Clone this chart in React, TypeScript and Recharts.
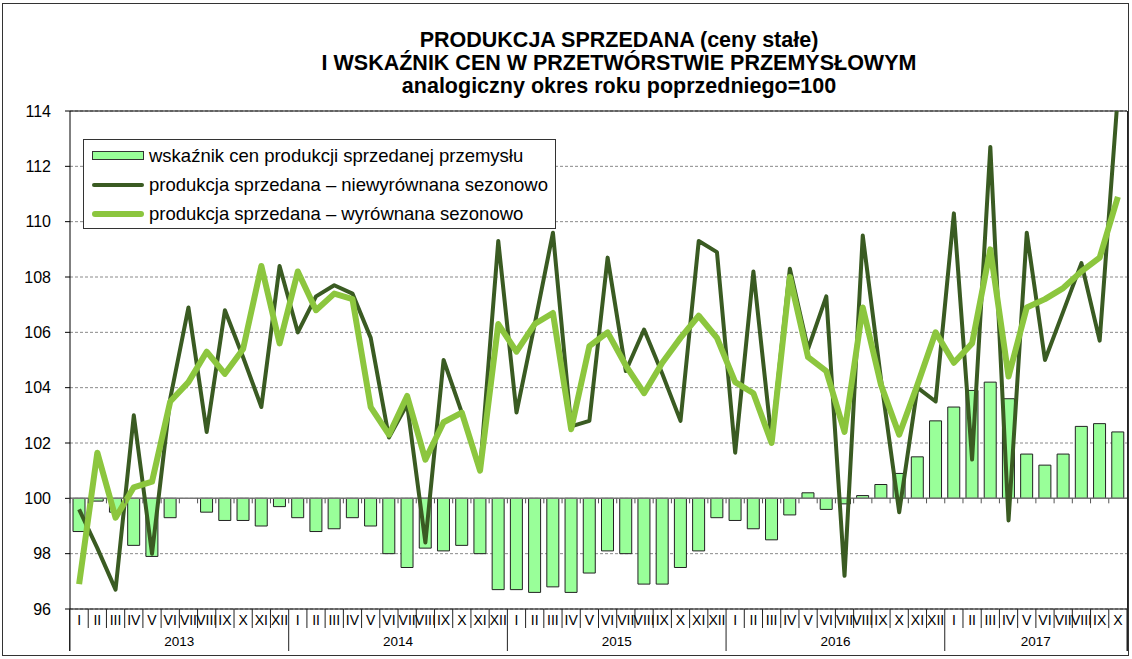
import React from "react";
import {
  ComposedChart,
  Bar,
  Line,
  XAxis,
  YAxis,
  CartesianGrid,
  ReferenceLine,
} from "recharts";

const years = ["2013", "2014", "2015", "2016", "2017"];
const romans = ["I", "II", "III", "IV", "V", "VI", "VII", "VIII", "IX", "X", "XI", "XII"];
const monthsInYear = [12, 12, 12, 12, 10];

// wskaźnik cen produkcji sprzedanej przemysłu
const cen = [
  98.8, 99.9, 99.5, 98.3, 97.9, 99.3, 100.0, 99.5, 99.2, 99.2, 99.0, 99.7,
  99.3, 98.8, 98.9, 99.3, 99.0, 98.0, 97.5, 98.2, 98.1, 98.3, 98.0, 96.7,
  96.7, 96.6, 96.8, 96.6, 97.3, 98.1, 98.0, 96.9, 96.9, 97.5, 98.1, 99.3,
  99.2, 98.9, 98.5, 99.4, 100.2, 99.6, 99.8, 100.1, 100.5, 100.9, 101.5, 102.8,
  103.3, 103.9, 104.2, 103.6, 101.6, 101.2, 101.6, 102.6, 102.7, 102.4,
];

// produkcja sprzedana – niewyrównana sezonowo
const niewyr = [
  99.6, 98.2, 96.7, 103.0, 98.0, 103.6, 106.9, 102.4, 106.8, 105.1, 103.3, 108.4,
  106.0, 107.3, 107.7, 107.4, 105.8, 102.2, 103.4, 98.4, 105.0, 103.1, 101.0, 109.3,
  103.1, 106.3, 109.6, 102.6, 102.8, 108.7, 104.6, 106.1, 104.5, 102.8, 109.3, 108.9,
  101.65, 108.2, 102.1, 108.3, 105.4, 107.3, 97.2, 109.5, 104.3, 99.5, 104.0, 103.5,
  110.3, 101.4, 112.7, 99.2, 109.6, 105.0, 106.75, 108.5, 105.7, 114.6,
];

// produkcja sprzedana – wyrównana sezonowo
const wyr = [
  96.9, 101.65, 99.3, 100.4, 100.6, 103.5, 104.2, 105.3, 104.5, 105.4, 108.4, 105.6,
  108.2, 106.8, 107.4, 107.2, 103.3, 102.3, 103.7, 101.4, 102.75, 103.1, 101.0, 106.3,
  105.3, 106.3, 106.7, 102.5, 105.5, 106.0, 104.8, 103.8, 104.9, 105.8, 106.6, 105.8,
  104.2, 103.8, 102.0, 108.0, 105.1, 104.6, 102.4, 106.9, 104.1, 102.3, 104.1, 106.0,
  104.9, 105.6, 109.0, 104.4, 106.9, 107.2, 107.6, 108.2, 108.7, 110.9,
];

const yTicks = [96, 98, 100, 102, 104, 106, 108, 110, 112, 114];

const rows: { key: number; m: string; year: string; mi: number }[] = [];
years.forEach((y, yi) => {
  for (let i = 0; i < monthsInYear[yi]; i++) {
    rows.push({ key: rows.length, m: romans[i], year: y, mi: i });
  }
});

const data = rows.map((r, i) => ({
  ...r,
  cen: [100, cen[i]],
  niewyr: niewyr[i],
  wyr: wyr[i],
}));

const W = 1132;
const H = 659;
const L = 70;
const R = 1127;
const T = 111;
const B = 609;
const band = (R - L) / data.length;
const y100 = T + ((114 - 100) / 18) * (B - T);

const FONT = "'Liberation Sans', Arial, sans-serif";
const DARK = "#3a5b22";
const LIGHT = "#8cc63e";
const BARFILL = "#99ff99";

function MonthTick(props: any) {
  const { x, payload } = props;
  const i = payload.index;
  const r = rows[i];
  const left = x - band / 2;
  const right = x + band / 2;
  const isYearStart = r.mi === 0;
  const isLast = i === rows.length - 1;
  const n = monthsInYear[years.indexOf(r.year)];
  const yearMid = Math.floor(n / 2) === r.mi;
  return (
    <g>
      {/* small ticks on the 100 line */}
      <line x1={left} x2={left} y1={y100} y2={y100 + 5} stroke="#555" strokeWidth={1} />
      <line
        x1={left}
        x2={left}
        y1={B}
        y2={isYearStart ? 651 : 628}
        stroke="#222"
        strokeWidth={1}
      />
      {isLast && <line x1={right} x2={right} y1={B} y2={651} stroke="#222" strokeWidth={1} />}
      <text
        x={x}
        y={625}
        textAnchor="middle"
        fontFamily={FONT}
        fontSize={14}
        fill="#000"
      >
        {r.m}
      </text>
      {yearMid && (
        <text
          x={n % 2 === 0 ? left : x}
          y={646}
          textAnchor="middle"
          fontFamily={FONT}
          fontSize={13.5}
          fill="#000"
        >
          {r.year}
        </text>
      )}
    </g>
  );
}

function LegendBox() {
  const items = [
    { label: "wskaźnik cen produkcji sprzedanej przemysłu", kind: "bar" },
    { label: "produkcja sprzedana – niewyrównana sezonowo", kind: "dark" },
    { label: "produkcja sprzedana – wyrównana sezonowo", kind: "light" },
  ];
  return (
    <div
      style={{
        position: "absolute",
        left: 83,
        top: 139,
        width: 473,
        height: 90,
        border: "1px solid #333",
        background: "#fff",
        boxSizing: "border-box",
        fontFamily: FONT,
        fontSize: 18.5,
        color: "#000",
        paddingTop: 1,
      }}
    >
      {items.map((it) => (
        <div
          key={it.label}
          style={{ display: "flex", alignItems: "center", height: 29 }}
        >
          <div style={{ width: 8 }} />
          {it.kind === "bar" ? (
            <div
              style={{
                width: 52,
                height: 9,
                background: BARFILL,
                border: "1px solid #333",
                boxSizing: "border-box",
              }}
            />
          ) : (
            <div
              style={{
                width: 52,
                height: it.kind === "dark" ? 4 : 6,
                borderRadius: 3,
                background: it.kind === "dark" ? DARK : LIGHT,
              }}
            />
          )}
          <span style={{ marginLeft: 5, whiteSpace: "nowrap" }}>{it.label}</span>
        </div>
      ))}
    </div>
  );
}

export default function App() {
  return (
    <div
      style={{
        position: "absolute",
        left: 0,
        top: 0,
        width: W,
        height: H,
        background: "#fff",
      }}
    >
      <div
        style={{
          position: "absolute",
          left: 2,
          top: 3,
          width: 1127,
          height: 653,
          border: "1px solid #333",
          boxSizing: "border-box",
        }}
      />
      <div
        style={{
          position: "absolute",
          left: 219,
          width: 800,
          top: 29,
          textAlign: "center",
          fontFamily: FONT,
          fontWeight: "bold",
          fontSize: 21.5,
          lineHeight: "23px",
          color: "#000",
        }}
      >
        <div>PRODUKCJA SPRZEDANA (ceny stałe)</div>
        <div>I WSKAŹNIK CEN W PRZETWÓRSTWIE PRZEMYSŁOWYM</div>
        <div>analogiczny okres roku poprzedniego=100</div>
      </div>
      <div style={{ position: "absolute", left: 0, top: 0 }}>
        <ComposedChart
          width={W}
          height={H}
          data={data}
          margin={{ top: T, right: W - R, bottom: 0, left: 0 }}
          barSize={12}
        >
          <CartesianGrid
            vertical={false}
            stroke="#8a8a8a"
            strokeDasharray="3 2"
          />
          <XAxis
            dataKey="key"
            type="category"
            interval={0}
            height={H - B}
            axisLine={false}
            tickLine={false}
            tick={<MonthTick />}
          />
          <YAxis
            domain={[96, 114]}
            ticks={yTicks}
            allowDataOverflow
            width={L}
            tickSize={5}
            tickMargin={14}
            axisLine={{ stroke: "#000" }}
            tickLine={{ stroke: "#000" }}
            tick={{ fill: "#000", fontSize: 16, fontFamily: FONT }}
          />
          <ReferenceLine y={100} stroke="#777" strokeWidth={1.5} />
          <ReferenceLine y={114} stroke="#000" strokeWidth={1} />
          <ReferenceLine y={96} stroke="#000" strokeWidth={1} />
          <Bar
            dataKey="cen"
            fill={BARFILL}
            stroke="#222"
            strokeWidth={1}
            isAnimationActive={false}
          />
          <Line
            dataKey="niewyr"
            type="linear"
            stroke={DARK}
            strokeWidth={4}
            dot={false}
            strokeLinejoin="round"
            isAnimationActive={false}
          />
          <Line
            dataKey="wyr"
            type="linear"
            stroke={LIGHT}
            strokeWidth={6}
            dot={false}
            strokeLinejoin="round"
            isAnimationActive={false}
          />
        </ComposedChart>
      </div>
      <div
        style={{
          position: "absolute",
          left: R,
          top: T,
          width: 1,
          height: 651 - T,
          background: "#222",
        }}
      />
      <div
        style={{
          position: "absolute",
          left: L - 1,
          top: B,
          width: 1,
          height: 651 - B,
          background: "#222",
        }}
      />
      <LegendBox />
    </div>
  );
}
